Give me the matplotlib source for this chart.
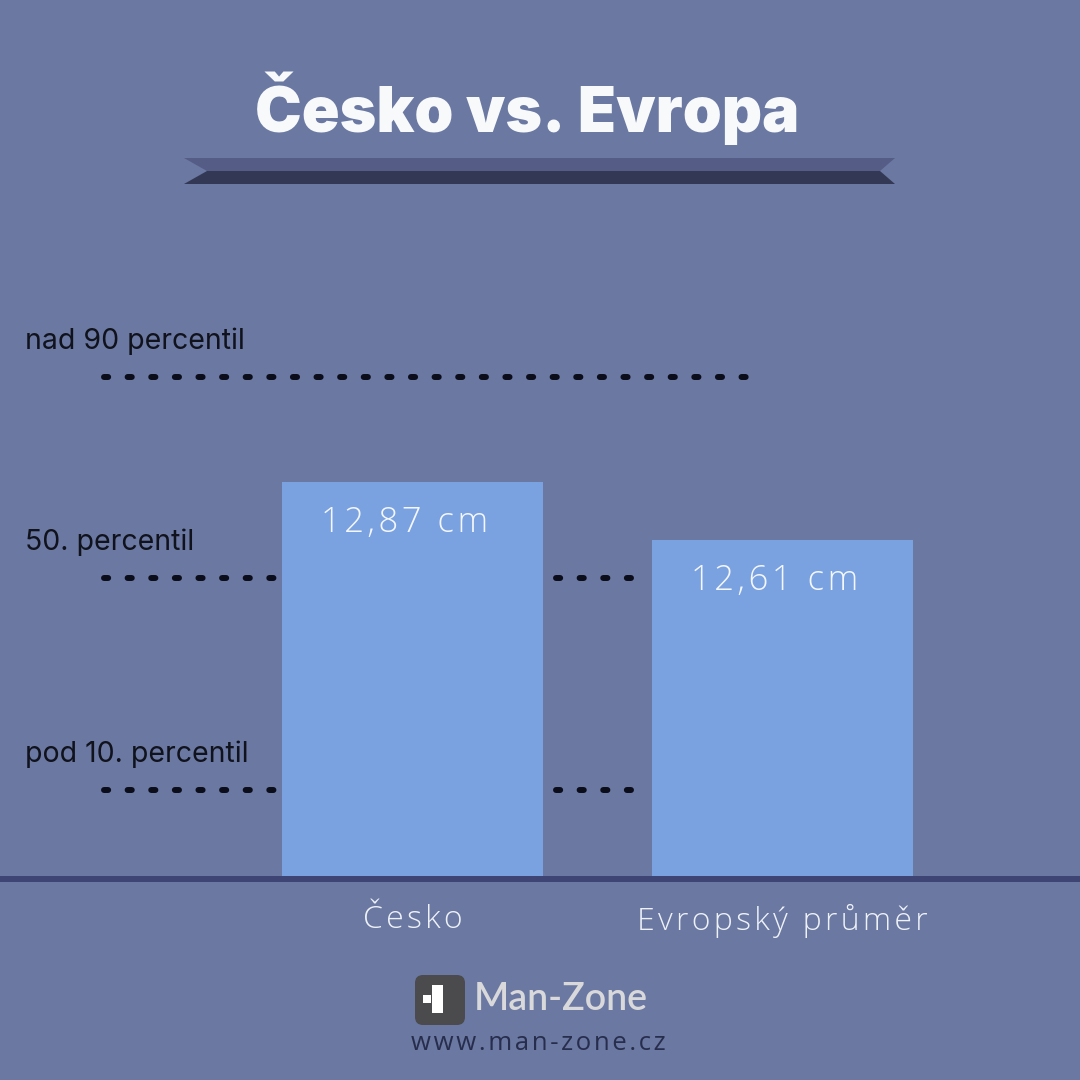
import matplotlib
matplotlib.use("Agg")
import matplotlib.pyplot as plt
from matplotlib.patches import Polygon, FancyBboxPatch, Rectangle

# values
categories = ["Česko", "Evropský průměr"]
lengths_cm = [12.87, 12.61]
value_labels = ["12,87 cm", "12,61 cm"]

# percentile reference levels (same scale as the bars)
percentile_names = ["nad 90 percentil", "50. percentil", "pod 10. percentil"]
percentile_levels = [13.34, 12.44, 11.49]

title = "Česko vs. Evropa"
brand = "Man-Zone"
brand_url = "www.man-zone.cz"

BG = "#6a78a2"
BAR = "#7ba2e0"
AXIS = "#3e4474"
HEAD = ["Inter", "DejaVu Sans"]
THIN = ["Open Sans", "DejaVu Sans"]


def spaced(s):
    # poor man's letter spacing
    return "\u200a".join(s)


W = H = 1080
fig = plt.figure(figsize=(10.8, 10.8), dpi=100, facecolor=BG)

# background layer in pixel coordinates (0,0 at top left)
bg = fig.add_axes([0, 0, 1, 1], zorder=0)
bg.set_xlim(0, W)
bg.set_ylim(H, 0)
bg.axis("off")

# title ribbon
bg.add_patch(Polygon([(184, 158), (895, 158), (880, 171), (207, 171)],
                     closed=True, facecolor="#555c86", edgecolor="none"))
bg.add_patch(Polygon([(207, 171), (880, 171), (895, 184), (184, 184)],
                     closed=True, facecolor="#333955", edgecolor="none"))
bg.text(527, 108, title, ha="center", va="center", color="#f7f9fb",
        fontsize=45, fontweight="black", family=HEAD)

# logo
bg.add_patch(FancyBboxPatch((419, 979), 42, 42,
                            boxstyle="round,pad=4,rounding_size=8",
                            facecolor="#4b4b4d", edgecolor="none"))
bg.add_patch(Rectangle((432, 985), 11, 28, facecolor="white", edgecolor="none"))
bg.add_patch(Rectangle((423, 995), 8, 8, facecolor="white", edgecolor="none"))
bg.text(474, 1000, brand, ha="left", va="center", color="#d9d9dc",
        fontsize=27, fontweight="semibold", family=["Lato", "DejaVu Sans"])
bg.text(538, 1044, spaced(brand_url), ha="center", va="center", color="#272d4c",
        fontsize=18.5, family=THIN)

# main chart: bar centres at 412.5 px and 782.5 px, 370 px per category
x_px0, x_unit = 412.5, 370.0
ax_bottom_px, ax_top_px = 879, 300
ax = fig.add_axes([0, 1 - ax_bottom_px / H, 1, (ax_bottom_px - ax_top_px) / H], zorder=1)
ax.set_facecolor("none")
ax.set_xlim(-x_px0 / x_unit, (W - x_px0) / x_unit)
ax.set_ylim(11.09, 13.686)

xs = list(range(len(categories)))
bars = ax.bar(xs, lengths_cm, width=261 / x_unit, color=BAR, zorder=2)

for x, v, lab in zip(xs, lengths_cm, value_labels):
    ax.annotate(spaced(lab), (x, v), xytext=(-8, -41), textcoords="offset pixels",
                ha="center", va="center", color="#f4f7fb", fontsize=25,
                family=THIN, fontweight="light")


def px(xp):
    return (xp - x_px0) / x_unit


plt.rcParams["lines.scale_dashes"] = False
dash = dict(color="#0b0d1a", lw=4.3, dashes=(3.0, 14.0), dash_capstyle="round",
            solid_capstyle="round", zorder=1)
for i, (name, lvl) in enumerate(zip(percentile_names, percentile_levels)):
    if i == 0:
        ax.plot([px(104), px(750)], [lvl, lvl], **dash)
    else:
        ax.plot([px(104), px(274)], [lvl, lvl], **dash)
        ax.plot([px(556), px(650)], [lvl, lvl], **dash)
    ax.annotate(name, (px(25), lvl), xytext=(0, 36), textcoords="offset pixels",
                ha="left", va="center", color="#10121c", fontsize=20.5,
                family=HEAD)

ax.set_xticks(xs)
ax.set_xticklabels([spaced(c) for c in categories], color="#eef2f8", fontsize=23,
                   family=THIN, fontweight="light")
ax.tick_params(axis="x", length=0, pad=18)
ax.set_yticks([])
for s in ["top", "left", "right"]:
    ax.spines[s].set_visible(False)
ax.spines["bottom"].set_color(AXIS)
ax.spines["bottom"].set_linewidth(4.3)
ax.spines["bottom"].set_zorder(3)

fig.savefig("out.png", dpi=100, facecolor=BG)
